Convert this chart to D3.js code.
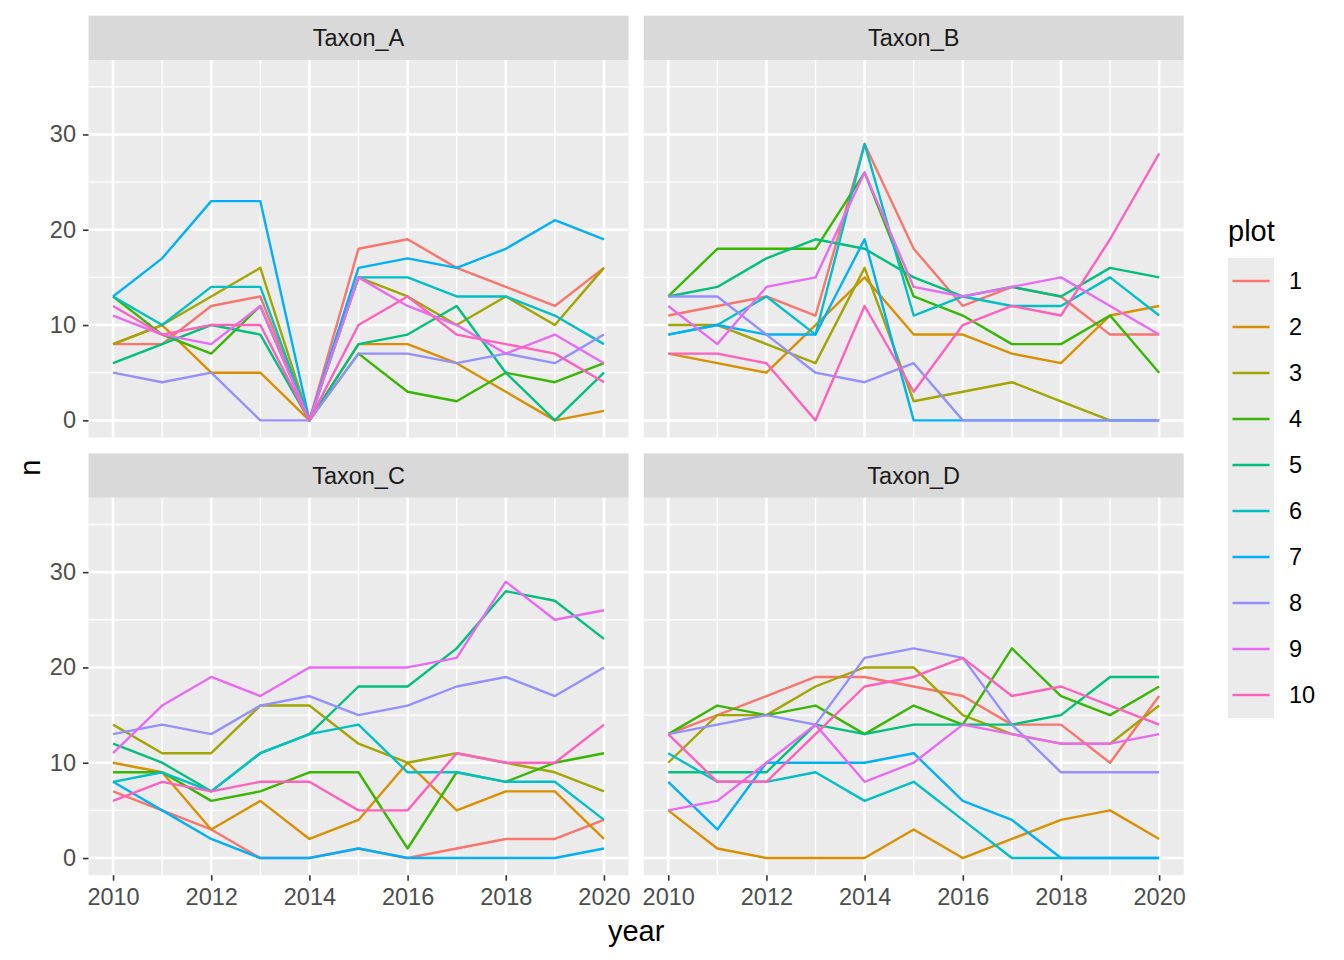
<!DOCTYPE html>
<html><head><meta charset="utf-8">
<script src="https://cdn.jsdelivr.net/npm/d3@7"></script>
<style>body{margin:0;background:#fff}svg{display:block;font-family:Arial,"Liberation Sans",sans-serif}</style>
</head><body><svg id="c" width="1344" height="960"></svg>
<script>
const years = [2010,2011,2012,2013,2014,2015,2016,2017,2018,2019,2020];
const plots = ["1","2","3","4","5","6","7","8","9","10"];
const taxa = ["Taxon_A","Taxon_B","Taxon_C","Taxon_D"];
const colors = ["#F8766D","#D89000","#A3A500","#39B600","#00BF7D","#00BFC4","#00B0F6","#9590FF","#E76BF3","#FF62BC"];
const xTicks = [2010,2012,2014,2016,2018,2020];
const xMinor = [2011,2013,2015,2017,2019];
const yTicks = [0,10,20,30];
const yMinor = [5,15,25,35];

const taxonA = [
  [8,8,12,13,0,18,19,16,14,12,16],
  [8,10,5,5,0,8,8,6,3,0,1],
  [8,10,13,16,0,15,13,10,13,10,16],
  [13,9,7,12,0,7,3,2,5,4,6],
  [6,8,10,9,0,8,9,12,5,0,5],
  [13,10,14,14,0,15,15,13,13,11,8],
  [13,17,23,23,0,16,17,16,18,21,19],
  [5,4,5,0,0,7,7,6,7,6,9],
  [11,9,8,12,0,15,12,10,7,9,6],
  [12,9,10,10,0,10,13,9,8,7,4]
];
const taxonB = [
  [11,12,13,11,29,18,12,14,13,9,9],
  [7,6,5,10,15,9,9,7,6,11,12],
  [10,10,8,6,16,2,3,4,2,0,0],
  [13,18,18,18,26,13,11,8,8,11,5],
  [13,14,17,19,18,15,13,14,13,16,15],
  [9,10,13,9,29,11,13,12,12,15,11],
  [9,10,9,9,19,0,0,0,0,0,0],
  [13,13,9,5,4,6,0,0,0,0,0],
  [12,8,14,15,26,14,13,14,15,12,9],
  [7,7,6,0,12,3,10,12,11,19,28]
];
const taxonC = [
  [7,5,3,0,0,1,0,1,2,2,4],
  [10,9,3,6,2,4,10,5,7,7,2],
  [14,11,11,16,16,12,10,11,10,9,7],
  [9,9,6,7,9,9,1,9,8,10,11],
  [12,10,7,11,13,18,18,22,28,27,23],
  [8,9,7,11,13,14,9,9,8,8,4],
  [8,5,2,0,0,1,0,0,0,0,1],
  [13,14,13,16,17,15,16,18,19,17,20],
  [11,16,19,17,20,20,20,21,29,25,26],
  [6,8,7,8,8,5,5,11,10,10,14]
];
const taxonD = [
  [13,15,17,19,19,18,17,14,14,10,17],
  [5,1,0,0,0,3,0,2,4,5,2],
  [10,15,15,18,20,20,15,13,12,12,16],
  [13,16,15,16,13,16,14,22,17,15,18],
  [9,9,9,14,13,14,14,14,15,19,19],
  [11,8,8,9,6,8,4,0,0,0,0],
  [8,3,10,10,10,11,6,4,0,0,0],
  [13,14,15,14,21,22,21,14,9,9,9],
  [5,6,10,14,8,10,14,13,12,12,13],
  [13,8,8,13,18,19,21,17,18,16,14]
];
const taxonData = [taxonA, taxonB, taxonC, taxonD];

const svg = d3.select("#c");
const colX = [[88.5, 628.5], [643.7, 1183.7]];
const rowY = [[60.1, 437.5], [497.8, 875.2]];
const stripH = 44.4;
const tickCol = "#4D4D4D";
const fsTick = 23.5;

const color = d3.scaleOrdinal().domain(plots).range(colors);

taxa.forEach((name, i) => {
  const c = i % 2, r = Math.floor(i / 2);
  const [x0, x1] = colX[c], [y0, y1] = rowY[r];
  const x = d3.scaleLinear().domain([2009.5, 2020.5]).range([x0, x1]);
  const y = d3.scaleLinear().domain([-1.8, 37.8]).range([y1, y0]);
  const g = svg.append("g");
  // strip
  g.append("rect").attr("x", x0).attr("y", y0 - stripH).attr("width", x1 - x0).attr("height", stripH).attr("fill", "#D9D9D9");
  g.append("text").attr("x", (x0 + x1) / 2).attr("y", y0 - stripH / 2).attr("dy", "0.35em")
    .attr("text-anchor", "middle").attr("font-size", fsTick).attr("fill", "#1A1A1A").text(name);
  // panel
  g.append("rect").attr("x", x0).attr("y", y0).attr("width", x1 - x0).attr("height", y1 - y0).attr("fill", "#EBEBEB");
  // grid
  xMinor.forEach(v => g.append("line").attr("x1", x(v)).attr("x2", x(v)).attr("y1", y0).attr("y2", y1).attr("stroke", "#fff").attr("stroke-width", 1.3));
  yMinor.forEach(v => g.append("line").attr("x1", x0).attr("x2", x1).attr("y1", y(v)).attr("y2", y(v)).attr("stroke", "#fff").attr("stroke-width", 1.3));
  xTicks.forEach(v => g.append("line").attr("x1", x(v)).attr("x2", x(v)).attr("y1", y0).attr("y2", y1).attr("stroke", "#fff").attr("stroke-width", 2.6));
  yTicks.forEach(v => g.append("line").attr("x1", x0).attr("x2", x1).attr("y1", y(v)).attr("y2", y(v)).attr("stroke", "#fff").attr("stroke-width", 2.6));
  // lines
  const line = d3.line().x((d, k) => x(years[k])).y(d => y(d));
  taxonData[i].forEach((vals, s) => {
    g.append("path").attr("d", line(vals)).attr("fill", "none")
      .attr("stroke", color(plots[s])).attr("stroke-width", 2.4).attr("stroke-linejoin", "round");
  });
  // y axis on left column
  if (c === 0) {
    const ax = g.append("g").attr("transform", `translate(${x0},0)`)
      .call(d3.axisLeft(y).tickValues(yTicks).tickSize(5.5).tickPadding(7).tickFormat(d3.format("d")));
    ax.select(".domain").remove();
    ax.selectAll("line").attr("stroke", "#333333").attr("stroke-width", 1.6);
    ax.selectAll("text").attr("font-size", fsTick).attr("fill", tickCol).attr("font-family", "Arial,'Liberation Sans',sans-serif");
  }
  // x axis on bottom row
  if (r === 1) {
    const ax = g.append("g").attr("transform", `translate(0,${y1})`)
      .call(d3.axisBottom(x).tickValues(xTicks).tickSize(5.5).tickPadding(8).tickFormat(d3.format("d")));
    ax.select(".domain").remove();
    ax.selectAll("line").attr("stroke", "#333333").attr("stroke-width", 1.6);
    ax.selectAll("text").attr("font-size", fsTick).attr("fill", tickCol).attr("font-family", "Arial,'Liberation Sans',sans-serif");
  }
});

// axis titles
svg.append("text").attr("x", (colX[0][0] + colX[1][1]) / 2).attr("y", 941).attr("text-anchor", "middle")
  .attr("font-size", 29).attr("fill", "#000").text("year");
svg.append("text").attr("transform", `translate(40,${(rowY[0][0] + rowY[1][1]) / 2}) rotate(-90)`).attr("text-anchor", "middle")
  .attr("font-size", 29).attr("fill", "#000").text("n");

// legend
const lg = svg.append("g");
lg.append("text").attr("x", 1228).attr("y", 241).attr("font-size", 29).attr("fill", "#000").text("plot");
plots.forEach((p, k) => {
  const cy = 281 + k * 46;
  lg.append("rect").attr("x", 1228).attr("y", cy - 23).attr("width", 46).attr("height", 46).attr("fill", "#EBEBEB");
  lg.append("line").attr("x1", 1232.5).attr("x2", 1269.5).attr("y1", cy).attr("y2", cy)
    .attr("stroke", color(p)).attr("stroke-width", 2.4);
  lg.append("text").attr("x", 1289).attr("y", cy).attr("dy", "0.35em").attr("font-size", fsTick).attr("fill", "#000").text(p);
});
</script></body></html>
